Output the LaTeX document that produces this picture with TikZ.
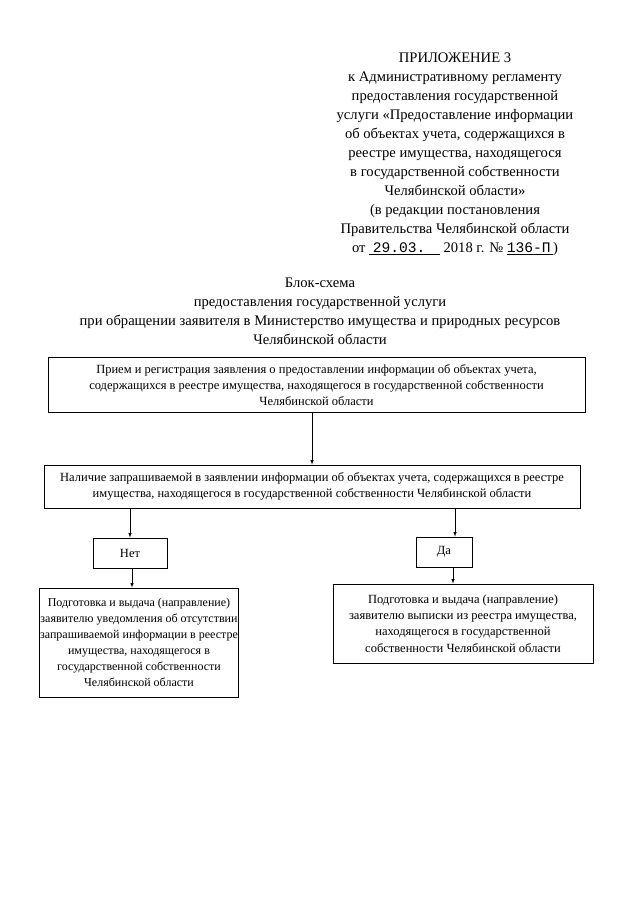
\documentclass[tikz,border=0pt]{standalone}
\usepackage{fontspec}
\setmainfont{Liberation Serif}
\setmonofont{Liberation Mono}
\usepackage{tikz}
\usetikzlibrary{arrows}
\usetikzlibrary{calc}
\usetikzlibrary{positioning}

\begin{document}
\begin{tikzpicture}[
  x = 1pt, y = -1pt,
  > = latex,
  box/.style = {draw,line width=0.8pt,align=center,inner sep=1pt,font=\fontsize{12.5}{16.2}\selectfont},
  head/.style = {align=center,font=\fontsize{14.6}{19}\selectfont},
  link/.style = {->,line width=0.6pt}
  ]
  \useasboundingbox (0,0) rectangle (640,905);

  % title block
  \node[head,anchor=north] (annex) at (455,49) {ПРИЛОЖЕНИЕ 3\\
    к Административному регламенту\\
    предоставления государственной\\
    услуги «Предоставление информации\\
    об объектах учета, содержащихся в\\
    реестре имущества, находящегося\\
    в государственной собственности\\
    Челябинской области»\\
    (в редакции постановления\\
    Правительства Челябинской области\\
    от \underline{\ \texttt{29.03.}\ \ \ \ } 2018 г. № \underline{\texttt{136-П}\,})};
  \node[head,anchor=north] (title) at (320,274) {Блок-схема\\
    предоставления государственной услуги\\
    при обращении заявителя в Министерство имущества и природных ресурсов\\
    Челябинской области};

  % boxes
  \node[box,minimum width=537pt,minimum height=55pt] (intake) at (316.5,385) {Прием и регистрация заявления о предоставлении информации об объектах учета,\\
    содержащихся в реестре имущества, находящегося в государственной собственности\\
    Челябинской области};
  \node[box,minimum width=536pt,minimum height=43pt] (check) at (312,486.5) {Наличие запрашиваемой в заявлении информации об объектах учета, содержащихся в реестре\\
    имущества, находящегося в государственной собственности Челябинской области};
  \node[box,minimum width=74pt,minimum height=30pt] (no) at (130,553) {Нет};
  \node[box,minimum width=56pt,minimum height=30pt] (yes) at (444,552) {Да};
  \node[box,font=\fontsize{12}{16}\selectfont,minimum width=198pt,minimum height=109pt] (refusal) at (139,642.5) {Подготовка и выдача (направление)\\
    заявителю уведомления об отсутствии\\
    запрашиваемой информации в реестре\\
    имущества, находящегося в\\
    государственной собственности\\
    Челябинской области};
  \node[box,minimum width=260pt,minimum height=79pt] (extract) at (463,623.5) {Подготовка и выдача (направление)\\
    заявителю выписки из реестра имущества,\\
    находящегося в государственной\\
    собственности Челябинской области};

  % arrows
  \draw[link] (intake.south -| check.north) -- (check.north);
  \draw[link] (check.south -| no.north) -- (no.north);
  \draw[link] ([xshift=11pt]yes.north |- check.south) -- ([xshift=11pt]yes.north);
  \draw[link] ([xshift=2pt]no.south) -- ([xshift=2pt]no.south |- refusal.north);
  \draw[link] ([xshift=9pt]yes.south) -- ([xshift=9pt]yes.south |- extract.north);
\end{tikzpicture}
\end{document}
